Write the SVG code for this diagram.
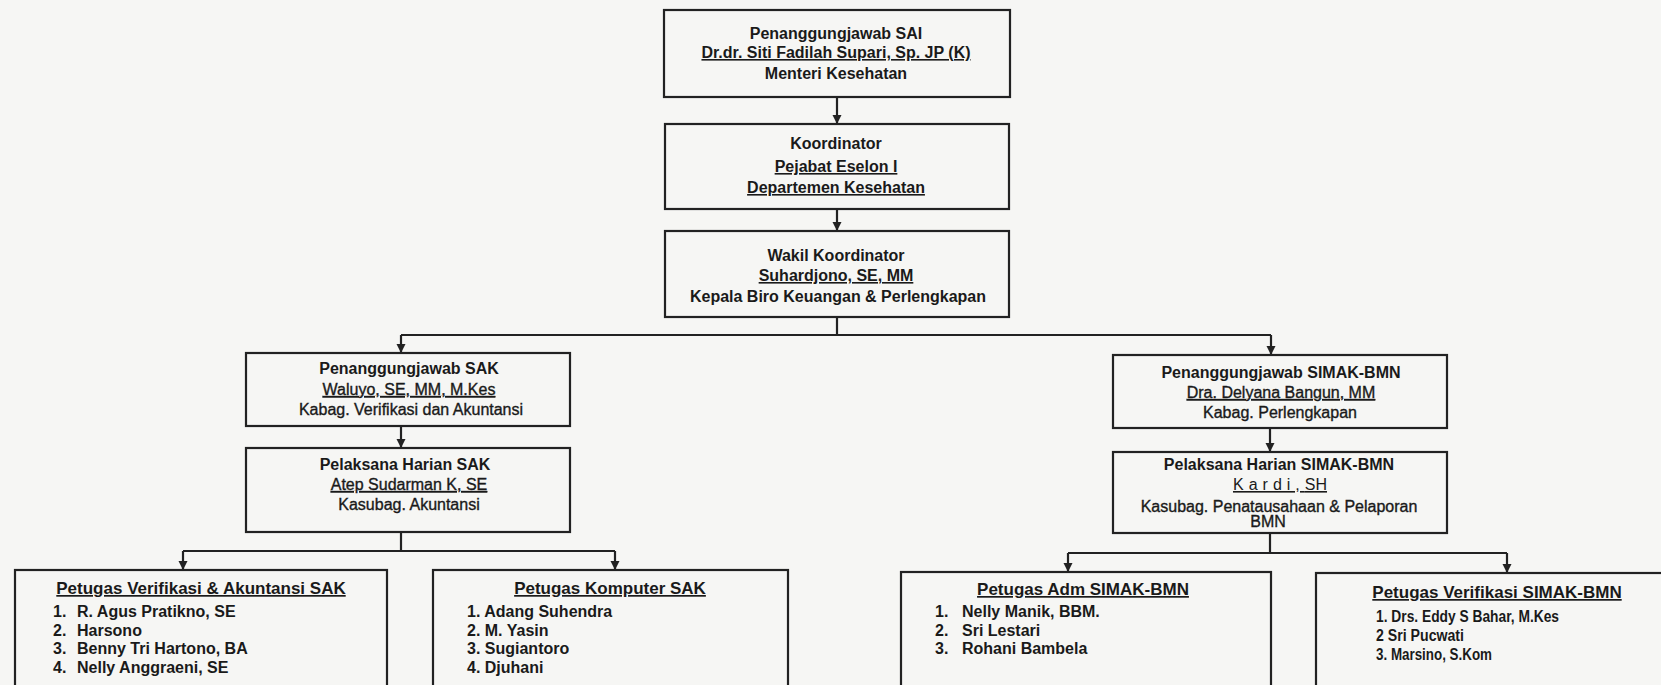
<svg xmlns="http://www.w3.org/2000/svg" width="1661" height="685" viewBox="0 0 1661 685">
<style>
.bg{fill:#f6f6f4}
.box{fill:none;stroke:#222;stroke-width:2.2}
.conn{fill:none;stroke:#222;stroke-width:2.2}
text{font-family:"Liberation Sans",Arial,sans-serif;font-size:16px;fill:#1a1a1a}
.c{text-anchor:middle}
.b{font-weight:bold}
.u{text-decoration:underline}
.r{stroke:#1a1a1a;stroke-width:0.35}
.h{font-size:17px;font-weight:bold;text-decoration:underline;text-anchor:middle}
.i{font-weight:bold}
</style>
<defs>
<marker id="arr" markerWidth="10" markerHeight="10" refX="9" refY="4.5" orient="auto" markerUnits="userSpaceOnUse">
<path d="M0,0 L9,4.5 L0,9 z" fill="#222"/>
</marker>
</defs>
<rect class="bg" x="0" y="0" width="1661" height="685"/>

<g id="connectors">
<path class="conn" d="M837,97 V124" marker-end="url(#arr)"/>
<path class="conn" d="M837,209 V231" marker-end="url(#arr)"/>
<path class="conn" d="M837,317 V335 M401,335 H1271"/>
<path class="conn" d="M401,335 V353" marker-end="url(#arr)"/>
<path class="conn" d="M1271,335 V355" marker-end="url(#arr)"/>
<path class="conn" d="M401,426 V448" marker-end="url(#arr)"/>
<path class="conn" d="M401,532 V551 M183,551 H615"/>
<path class="conn" d="M183,551 V570" marker-end="url(#arr)"/>
<path class="conn" d="M615,551 V570" marker-end="url(#arr)"/>
<path class="conn" d="M1270,428 V452" marker-end="url(#arr)"/>
<path class="conn" d="M1270,533 V553 M1068,553 H1507"/>
<path class="conn" d="M1068,553 V572" marker-end="url(#arr)"/>
<path class="conn" d="M1507,553 V573" marker-end="url(#arr)"/>
</g>

<g id="sai">
<rect class="box" x="664" y="10" width="346" height="87"/>
<text class="c b" x="836" y="39">Penanggungjawab SAI</text>
<text class="c b u" x="836" y="58">Dr.dr. Siti Fadilah Supari, Sp. JP (K)</text>
<text class="c b" x="836" y="79">Menteri Kesehatan</text>
</g>

<g id="koordinator">
<rect class="box" x="665" y="124" width="344" height="85"/>
<text class="c b" x="836" y="149">Koordinator</text>
<text class="c b u" x="836" y="172">Pejabat Eselon I</text>
<text class="c b u" x="836" y="193">Departemen Kesehatan</text>
</g>

<g id="wakil">
<rect class="box" x="665" y="231" width="344" height="86"/>
<text class="c b" x="836" y="261">Wakil Koordinator</text>
<text class="c b u" x="836" y="281">Suhardjono, SE, MM</text>
<text class="c b" x="838" y="302">Kepala Biro Keuangan &amp; Perlengkapan</text>
</g>

<g id="pj-sak">
<rect class="box" x="246" y="353" width="324" height="73"/>
<text class="c b" x="409" y="374">Penanggungjawab SAK</text>
<text class="c r u" x="409" y="395">Waluyo, SE, MM, M.Kes</text>
<text class="c r" x="411" y="415">Kabag. Verifikasi dan Akuntansi</text>
</g>

<g id="ph-sak">
<rect class="box" x="246" y="448" width="324" height="84"/>
<text class="c b" x="405" y="470">Pelaksana Harian SAK</text>
<text class="c r u" x="409" y="490">Atep Sudarman K, SE</text>
<text class="c r" x="409" y="510">Kasubag. Akuntansi</text>
</g>

<g id="pj-simak">
<rect class="box" x="1113" y="355" width="334" height="73"/>
<text class="c b" x="1281" y="378">Penanggungjawab SIMAK-BMN</text>
<text class="c r u" x="1281" y="398">Dra. Delyana Bangun, MM</text>
<text class="c r" x="1280" y="418">Kabag. Perlengkapan</text>
</g>

<g id="ph-simak">
<rect class="box" x="1113" y="452" width="334" height="81"/>
<text class="c b" x="1279" y="470">Pelaksana Harian SIMAK-BMN</text>
<text class="c u" x="1280" y="490"><tspan letter-spacing="5">Kardi,</tspan>SH</text>
<text class="c r" x="1279" y="512">Kasubag. Penatausahaan &amp; Pelaporan</text>
<text class="c r" x="1268" y="527">BMN</text>
</g>

<g id="petugas-verifikasi-sak">
<rect class="box" x="15" y="570" width="372" height="140"/>
<text class="h" x="201" y="594">Petugas Verifikasi &amp; Akuntansi SAK</text>
<text class="i" x="53" y="617">1.</text><text class="i" x="77" y="617">R. Agus Pratikno, SE</text>
<text class="i" x="53" y="635.5">2.</text><text class="i" x="77" y="635.5">Harsono</text>
<text class="i" x="53" y="654">3.</text><text class="i" x="77" y="654">Benny Tri Hartono, BA</text>
<text class="i" x="53" y="672.5">4.</text><text class="i" x="77" y="672.5">Nelly Anggraeni, SE</text>
</g>

<g id="petugas-komputer-sak">
<rect class="box" x="433" y="570" width="355" height="140"/>
<text class="h" x="610" y="594">Petugas Komputer SAK</text>
<text class="i" x="467" y="617">1. Adang Suhendra</text>
<text class="i" x="467" y="635.5">2. M. Yasin</text>
<text class="i" x="467" y="654">3. Sugiantoro</text>
<text class="i" x="467" y="672.5">4. Djuhani</text>
</g>

<g id="petugas-adm-simak">
<rect class="box" x="901" y="572" width="370" height="140"/>
<text class="h" x="1083" y="595">Petugas Adm SIMAK-BMN</text>
<text class="i" x="935" y="617">1.</text><text class="i" x="962" y="617">Nelly Manik, BBM.</text>
<text class="i" x="935" y="636">2.</text><text class="i" x="962" y="636">Sri Lestari</text>
<text class="i" x="935" y="654">3.</text><text class="i" x="962" y="654">Rohani Bambela</text>
</g>

<g id="petugas-verifikasi-simak">
<rect class="box" x="1316" y="573" width="360" height="140"/>
<text class="h" x="1497" y="598">Petugas Verifikasi SIMAK-BMN</text>
<text class="i" x="1376" y="622" textLength="183" lengthAdjust="spacingAndGlyphs">1. Drs. Eddy S Bahar, M.Kes</text>
<text class="i" x="1376" y="641" textLength="88" lengthAdjust="spacingAndGlyphs">2 Sri Pucwati</text>
<text class="i" x="1376" y="660" textLength="116" lengthAdjust="spacingAndGlyphs">3. Marsino, S.Kom</text>
</g>
</svg>
